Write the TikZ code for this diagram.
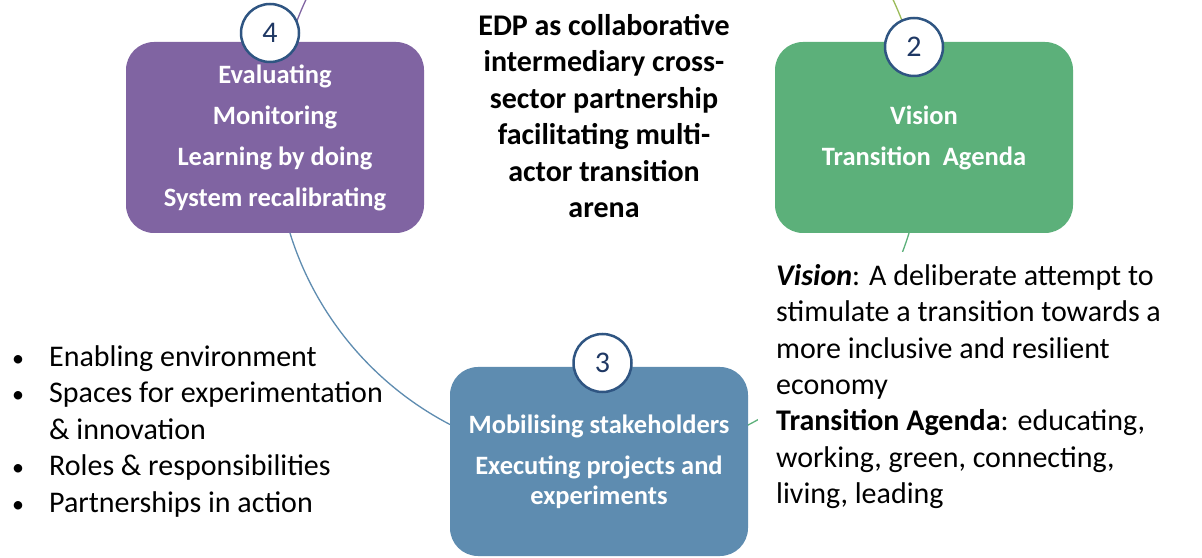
\documentclass[tikz,border=0pt]{standalone}
\usepackage{fontspec}
\setmainfont{Carlito}
\usepackage{xcolor}
\usetikzlibrary{positioning}

\definecolor{evalpurple}{RGB}{128,100,162}
\definecolor{visiongreen}{RGB}{92,176,122}
\definecolor{mobilblue}{RGB}{94,140,176}
\definecolor{ringblue}{RGB}{47,85,130}
\definecolor{numblue}{RGB}{31,56,100}
\definecolor{olivearc}{RGB}{155,187,89}

\newcommand{\listdot}{\makebox[39pt][l]{\hspace{2pt}\scalebox{0.8}{\textbullet}}}

\tikzset{
  stagebox/.style={rounded corners=28pt, minimum width=298pt, minimum height=191pt,
    inner sep=0pt, text=white, align=center, font=\fontsize{26.5}{30}\selectfont\bfseries},
  stagenum/.style={circle, draw=ringblue, line width=2.5pt, fill=white, minimum size=58pt,
    inner sep=0pt, text=numblue, font=\fontsize{30}{32}\selectfont},
  cyclearc/.style={line width=1.3pt},
  bodytext/.style={font=\fontsize{30}{36.4}\selectfont, align=left, inner sep=0pt}
}

\begin{document}
\begin{tikzpicture}[x=1pt, y=1pt]

\useasboundingbox (0,0) rectangle (1202,557);
\clip (0,0) rectangle (1202,557);
\fill[white] (0,0) rectangle (1202,557);

% Cycle ring (drawn first, boxes sit on top)
\coordinate (hub) at (599.5,420);
\draw[cyclearc, evalpurple] (hub) ++(180:324) arc[start angle=180, end angle=90, radius=324];
\draw[cyclearc, olivearc] (hub) ++(90:324) arc[start angle=90, end angle=0, radius=324];
\draw[cyclearc, visiongreen] (hub) ++(0:324) arc[start angle=0, end angle=-90, radius=324];
\draw[cyclearc, mobilblue] (hub) ++(270:324) arc[start angle=270, end angle=180, radius=324];

% Stage boxes
\node[stagebox, fill=evalpurple] (evalbox) at (275,419.5)
  {Evaluating\\[11pt]Monitoring\\[11pt]Learning by doing\\[11pt]System recalibrating};
\node[stagebox, fill=visiongreen] (visionbox) at (924,419.5)
  {Vision\\[11pt]Transition\ \ Agenda};
\node[stagebox, fill=mobilblue, minimum height=189pt] (mobilbox) at (599,95.5)
  {Mobilising stakeholders\\[11pt]Executing projects and\\experiments};

% Stage numbers
\node[stagenum] (num4) at (270,524) {4};
\node[stagenum] (num2) at (914,510) {2};
\node[stagenum] (num3) at (602.5,194) {3};

% Centre title
\node[align=center, inner sep=0pt, font=\fontsize{30}{36.4}\selectfont\bfseries] (arena) at (604,441)
  {EDP as collaborative\\intermediary cross-\\sector partnership\\facilitating multi-\\actor transition\\arena};

% Vision / agenda explanation (white ground hides the ring behind it)
\node[bodytext, fill=white, inner xsep=18pt, inner ysep=12pt, anchor=north west] (visiontext) at (758,305)
  {\textbf{\textit{Vision}}: A deliberate attempt to\\
   stimulate a transition towards a\\
   more inclusive and resilient\\
   economy\\
   \textbf{Transition Agenda}: educating,\\
   working, green, connecting,\\
   living, leading};

% Bullet list
\node[bodytext, anchor=north west] (enablers) at (10,211.5)
  {\listdot Enabling environment\\
   \listdot Spaces for experimentation\\
   \makebox[39pt][l]{}\& innovation\\
   \listdot Roles \& responsibilities\\
   \listdot Partnerships in action};

\end{tikzpicture}
\end{document}
